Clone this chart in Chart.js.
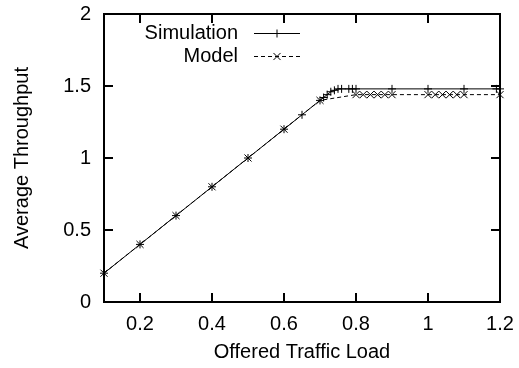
<!DOCTYPE html>
<html lang="en">
<head>
  <meta charset="UTF-8">
  <title>Average Throughput</title>
  <script src="https://cdn.jsdelivr.net/npm/chart.js"></script>
  <style>
    body { margin: 0; background: #fff; }
    #wrap { width: 519px; height: 368px; }
  </style>
</head>
<body>
  <div id="wrap"><canvas id="tput"></canvas></div>
  <script>
    // Simulation results
    const simLoad = [0.1, 0.2, 0.3, 0.4, 0.5, 0.6, 0.65, 0.7, 0.71, 0.72, 0.73, 0.74, 0.75, 0.76,
                     0.78, 0.79, 0.8, 0.9, 1.0, 1.1, 1.19, 1.2];
    const simTput = [0.2, 0.4, 0.6, 0.8, 1.0, 1.2, 1.3, 1.4, 1.42, 1.44, 1.46, 1.47, 1.48, 1.48,
                     1.48, 1.48, 1.48, 1.48, 1.48, 1.48, 1.48, 1.48];
    // Analytical model
    const modelLoad = [0.1, 0.2, 0.3, 0.4, 0.5, 0.6, 0.7, 0.8, 0.82, 0.84, 0.86, 0.88, 0.9,
                       1.0, 1.02, 1.04, 1.06, 1.08, 1.1, 1.2];
    const modelTput = [0.2, 0.4, 0.6, 0.8, 1.0, 1.2, 1.4, 1.44, 1.44, 1.44, 1.44, 1.44, 1.44,
                       1.44, 1.44, 1.44, 1.44, 1.44, 1.44, 1.44];
    const xTicks = [0.2, 0.4, 0.6, 0.8, 1.0, 1.2];
    const yTicks = [0, 0.5, 1, 1.5, 2];

    const FONT = 'Arial, "Liberation Sans", Helvetica, sans-serif';

    function pts(xs, ys) {
      return xs.map((x, i) => ({ x: x, y: ys[i] }));
    }

    // gnuplot style frame with inward ticks on all four sides
    const frame = {
      id: 'frame',
      afterDatasetsDraw(chart) {
        const { ctx, chartArea: a, scales: { x, y } } = chart;
        const tl = 9;
        ctx.save();
        ctx.strokeStyle = '#000';
        ctx.lineWidth = 2;
        ctx.beginPath();
        xTicks.forEach(v => {
          const px = Math.round(x.getPixelForValue(v));
          ctx.moveTo(px, a.bottom); ctx.lineTo(px, a.bottom - tl);
          ctx.moveTo(px, a.top); ctx.lineTo(px, a.top + tl);
        });
        yTicks.forEach(v => {
          const py = Math.round(y.getPixelForValue(v));
          ctx.moveTo(a.left, py); ctx.lineTo(a.left + tl, py);
          ctx.moveTo(a.right, py); ctx.lineTo(a.right - tl, py);
        });
        ctx.stroke();
        ctx.strokeRect(a.left, a.top, a.right - a.left, a.bottom - a.top);
        ctx.restore();
      }
    };

    // key in the top left: label right aligned, line sample with marker after it
    const key = {
      id: 'key',
      afterDraw(chart) {
        const { ctx } = chart;
        const textRight = 238, x0 = 254, x1 = 300, rows = [33, 56];
        ctx.save();
        ctx.font = '20px ' + FONT;
        ctx.fillStyle = '#000';
        ctx.textAlign = 'right';
        ctx.textBaseline = 'middle';
        chart.data.datasets.forEach((ds, i) => {
          const yy = rows[i] + 0.5;
          ctx.fillText(ds.label, textRight, rows[i]);
          ctx.strokeStyle = '#000';
          ctx.lineWidth = 1;
          ctx.setLineDash(ds.borderDash || []);
          ctx.beginPath();
          ctx.moveTo(x0, yy); ctx.lineTo(x1, yy);
          ctx.stroke();
          ctx.setLineDash([]);
          Chart.helpers.drawPoint(ctx, {
            pointStyle: ds.pointStyle, radius: ds.pointRadius, borderWidth: 1, rotation: 0
          }, (x0 + x1) / 2, yy);
        });
        ctx.restore();
      }
    };

    new Chart(document.getElementById('tput'), {
      type: 'scatter',
      data: {
        datasets: [{
          label: 'Simulation',
          data: pts(simLoad, simTput),
          showLine: true,
          borderColor: '#000',
          backgroundColor: '#000',
          borderWidth: 1,
          pointStyle: 'cross',
          pointRadius: 4,
          pointBorderWidth: 1,
          clip: false
        }, {
          label: 'Model',
          data: pts(modelLoad, modelTput),
          showLine: true,
          borderColor: '#000',
          backgroundColor: '#000',
          borderWidth: 1,
          borderDash: [4, 3],
          pointStyle: 'crossRot',
          pointRadius: 5,
          pointBorderWidth: 1,
          clip: false
        }]
      },
      options: {
        responsive: true,
        maintainAspectRatio: false,
        animation: false,
        layout: { padding: { top: 14, right: 19, left: 0, bottom: 0 } },
        plugins: { legend: { display: false }, tooltip: { enabled: false } },
        scales: {
          x: {
            type: 'linear', min: 0.1, max: 1.2,
            afterBuildTicks: s => { s.ticks = xTicks.map(v => ({ value: v })); },
            afterFit: s => { s.height = 66; s.paddingLeft = 0; s.paddingRight = 0; },
            grid: { display: false, drawTicks: false },
            border: { display: false },
            ticks: { color: '#000', font: { family: FONT, size: 20 }, padding: 10, maxRotation: 0,
                     callback: v => String(v) },
            title: { display: true, text: 'Offered Traffic Load', color: '#000',
                     font: { family: FONT, size: 20 }, padding: { top: 0, bottom: 4 } }
          },
          y: {
            type: 'linear', min: 0, max: 2,
            afterBuildTicks: s => { s.ticks = yTicks.map(v => ({ value: v })); },
            afterFit: s => { s.width = 104; s.paddingTop = 0; s.paddingBottom = 0; },
            grid: { display: false, drawTicks: false },
            border: { display: false },
            ticks: { color: '#000', font: { family: FONT, size: 20 }, padding: 13,
                     callback: v => String(v) },
            title: { display: true, text: 'Average Throughput', color: '#000',
                     font: { family: FONT, size: 20 }, padding: { top: 10, bottom: 0 } }
          }
        }
      },
      plugins: [frame, key]
    });
  </script>
</body>
</html>
